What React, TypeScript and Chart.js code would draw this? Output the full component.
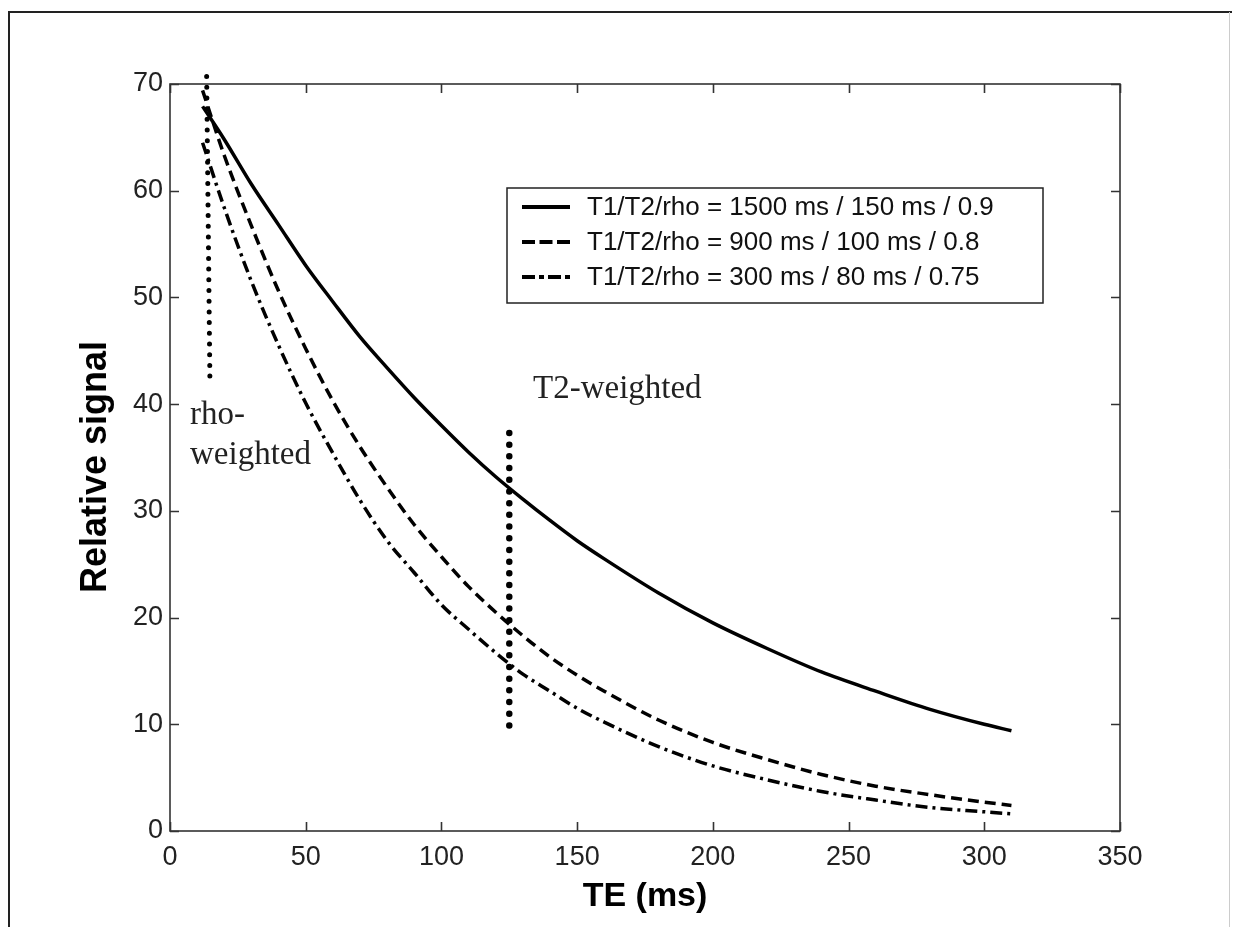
import React, { useEffect, useRef } from "react";
import { Chart, registerables } from "chart.js";

Chart.register(...registerables);

// ---- data ----
const teValues = [12, 20, 30, 40, 50, 60, 70, 80, 90, 100, 110, 120, 130, 140, 150, 160, 180, 200, 220, 240, 260, 280, 300, 310];
const signalLong = [67.9, 64.8, 60.6, 56.8, 53.0, 49.6, 46.3, 43.4, 40.6, 38.0, 35.5, 33.2, 31.1, 29.1, 27.2, 25.5, 22.3, 19.5, 17.1, 14.9, 13.1, 11.4, 10.0, 9.4];
const signalMid = [69.4, 63.3, 56.7, 50.6, 45.2, 40.3, 36.0, 32.2, 28.7, 25.7, 22.9, 20.5, 18.3, 16.3, 14.6, 13.1, 10.4, 8.3, 6.7, 5.3, 4.2, 3.4, 2.7, 2.4];
const signalShort = [64.5, 58.4, 51.5, 45.5, 40.1, 35.4, 31.0, 27.2, 24.2, 21.2, 18.9, 16.7, 14.7, 13.1, 11.5, 10.2, 7.9, 6.1, 4.8, 3.7, 2.9, 2.2, 1.8, 1.6];
const seriesLabels = [
  "T1/T2/rho = 1500 ms / 150 ms / 0.9",
  "T1/T2/rho = 900 ms / 100 ms / 0.8",
  "T1/T2/rho = 300 ms / 80 ms / 0.75",
];
const rhoMarkerTE = [13.5, 14.7];
const rhoMarkerSignal = [70.7, 42.3];
const t2MarkerTE = [125, 125];
const t2MarkerSignal = [37.3, 8.9];
const xTickStep = 50;
const xRange = [0, 350];
const yTickStep = 10;
const yRange = [0, 70];
const xTitle = "TE (ms)";
const yTitle = "Relative signal";
const rhoNote = ["rho-", "weighted"];
const t2Note = "T2-weighted";

const lineDashes: number[][] = [[], [11, 6], [12, 5, 3, 5]];
const legendDashes: number[][] = [[], [13, 4.5], [13, 4, 5, 4]];

const toPoints = (xs: number[], ys: number[]) => xs.map((x, i) => ({ x, y: ys[i] }));

export default function App() {
  const ref = useRef<HTMLCanvasElement>(null);

  useEffect(() => {
    const canvas = ref.current;
    if (!canvas) return;

    const framePlugin = {
      id: "frame",
      beforeDraw(chart: any) {
        const ctx = chart.ctx;
        ctx.save();
        ctx.fillStyle = "#fff";
        ctx.fillRect(0, 0, chart.width, chart.height);
        ctx.strokeStyle = "#222";
        ctx.lineWidth = 2;
        ctx.beginPath();
        ctx.moveTo(9, 927);
        ctx.lineTo(9, 12);
        ctx.lineTo(1232, 12);
        ctx.stroke();
        ctx.strokeStyle = "#ccc";
        ctx.lineWidth = 1;
        ctx.beginPath();
        ctx.moveTo(1229.5, 12);
        ctx.lineTo(1229.5, 927);
        ctx.stroke();
        ctx.restore();
      },
      afterDatasetsDraw(chart: any) {
        const ctx = chart.ctx;
        const { left, right, top, bottom } = chart.chartArea;
        const xs = chart.scales.x;
        const ys = chart.scales.y;
        ctx.save();
        ctx.setLineDash([]);
        ctx.strokeStyle = "#333";
        ctx.lineWidth = 1.6;
        ctx.strokeRect(left, top, right - left, bottom - top);
        const tl = 9;
        ctx.beginPath();
        xs.ticks.forEach((t: any) => {
          const px = Math.round(xs.getPixelForValue(t.value)) + 0.5;
          ctx.moveTo(px, bottom);
          ctx.lineTo(px, bottom - tl);
          ctx.moveTo(px, top);
          ctx.lineTo(px, top + tl);
        });
        ys.ticks.forEach((t: any) => {
          const py = Math.round(ys.getPixelForValue(t.value)) + 0.5;
          ctx.moveTo(left, py);
          ctx.lineTo(left + tl, py);
          ctx.moveTo(right, py);
          ctx.lineTo(right - tl, py);
        });
        ctx.stroke();

        // legend
        const lx0 = 507, ly0 = 188, lx1 = 1043, ly1 = 303;
        ctx.fillStyle = "#fff";
        ctx.fillRect(lx0, ly0, lx1 - lx0, ly1 - ly0);
        ctx.strokeStyle = "#222";
        ctx.lineWidth = 1.5;
        ctx.strokeRect(lx0, ly0, lx1 - lx0, ly1 - ly0);
        ctx.font = "26px 'Liberation Sans', Arial, sans-serif";
        ctx.textBaseline = "middle";
        ctx.textAlign = "left";
        ctx.fillStyle = "#111";
        seriesLabels.forEach((label, i) => {
          const y = 207 + 35 * i;
          ctx.save();
          ctx.strokeStyle = "#000";
          ctx.lineWidth = 4;
          ctx.setLineDash(legendDashes[i]);
          ctx.beginPath();
          ctx.moveTo(522, y);
          ctx.lineTo(570, y);
          ctx.stroke();
          ctx.restore();
          ctx.fillText(label, 587, y + 1);
        });

        // annotations
        ctx.fillStyle = "#222";
        ctx.textBaseline = "alphabetic";
        ctx.font = "33px 'Liberation Serif', 'Times New Roman', serif";
        ctx.fillText(rhoNote[0], 190, 424);
        ctx.fillText(rhoNote[1], 190, 464);
        ctx.fillText(t2Note, 533, 398);

        // axis titles
        ctx.fillStyle = "#000";
        ctx.textAlign = "center";
        ctx.textBaseline = "middle";
        ctx.font = "bold 34px 'Liberation Sans', Arial, sans-serif";
        ctx.fillText(xTitle, (left + right) / 2, 897);
        ctx.save();
        ctx.translate(96, 467);
        ctx.rotate(-Math.PI / 2);
        ctx.font = "bold 36px 'Liberation Sans', Arial, sans-serif";
        ctx.fillText(yTitle, 0, 0);
        ctx.restore();
        ctx.restore();
      },
    };

    const mainSets = [signalLong, signalMid, signalShort].map((vals, i) => ({
      label: seriesLabels[i],
      data: toPoints(teValues, vals),
      borderColor: "#000",
      borderWidth: 3.5,
      borderDash: lineDashes[i],
      pointRadius: 0,
      fill: false,
      cubicInterpolationMode: "monotone" as const,
    }));

    const chart = new Chart(canvas, {
      type: "line",
      data: {
        datasets: [
          ...mainSets,
          {
            label: "rho-weighted",
            data: toPoints(rhoMarkerTE, rhoMarkerSignal),
            borderColor: "#000",
            borderWidth: 5,
            borderDash: [0, 10.7],
            borderCapStyle: "round",
            pointRadius: 0,
            clip: false,
          } as any,
          {
            label: "T2-weighted",
            data: toPoints(t2MarkerTE, t2MarkerSignal),
            borderColor: "#000",
            borderWidth: 6.5,
            borderDash: [0, 11.7],
            borderCapStyle: "round",
            pointRadius: 0,
            clip: false,
          } as any,
        ],
      },
      options: {
        responsive: false,
        animation: false,
        devicePixelRatio: 1,
        layout: { padding: { left: 0, top: 84, right: 114, bottom: 0 } },
        plugins: { legend: { display: false }, tooltip: { enabled: false }, title: { display: false } },
        scales: {
          x: {
            type: "linear",
            min: xRange[0],
            max: xRange[1],
            grid: { display: false, drawTicks: false },
            border: { display: false },
            ticks: {
              stepSize: xTickStep,
              autoSkip: false,
              maxRotation: 0,
              padding: 10,
              color: "#222",
              font: { family: "'Liberation Sans', Arial, sans-serif", size: 27 },
            },
            afterFit: (s: any) => {
              s.height = 96;
            },
          },
          y: {
            type: "linear",
            min: yRange[0],
            max: yRange[1],
            grid: { display: false, drawTicks: false },
            border: { display: false },
            ticks: {
              stepSize: yTickStep,
              autoSkip: false,
              padding: 7,
              color: "#222",
              font: { family: "'Liberation Sans', Arial, sans-serif", size: 27 },
            },
            afterFit: (s: any) => {
              s.width = 170;
            },
          },
        },
      },
      plugins: [framePlugin],
    });

    return () => chart.destroy();
  }, []);

  return (
    <div style={{ position: "fixed", left: 0, top: 0, width: 1234, height: 927, background: "#fff" }}>
      <canvas ref={ref} width={1234} height={927} style={{ width: 1234, height: 927, display: "block" }} />
    </div>
  );
}
